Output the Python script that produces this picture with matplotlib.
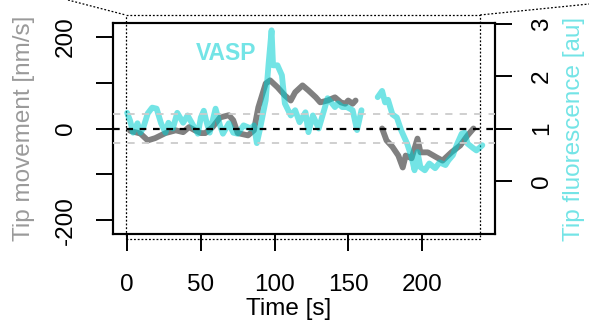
import numpy as np
import matplotlib
matplotlib.use("Agg")
import matplotlib.pyplot as plt
from matplotlib.lines import Line2D

plt.rcParams['font.family'] = ['Liberation Sans', 'DejaVu Sans']
plt.rcParams['font.size'] = 17.5

# tip movement [nm/s], left axis (two recorded stretches)
move_t1 = [2, 9, 14, 19, 26, 33, 38, 42, 46, 50, 53, 58, 63, 69, 72, 75, 82, 86,
           89, 94, 97, 102, 107, 111, 114, 119, 123, 128, 131, 136, 141, 145, 148,
           150, 153, 155]
move_v1 = [-5, -11, -26, -21, -10, -4, -8, 3, -4, -10, -10, 3, 24, 29, 18, -10, -15, -4,
           46, 98, 105, 90, 72, 61, 79, 94, 83, 68, 57, 61, 68, 57, 54,
           61, 54, 61]
move_t2 = [173, 176, 180, 184, 187, 189, 193, 197, 199, 204, 210, 214, 220, 226, 231, 235]
move_v2 = [0, -26, -40, -59, -85, -59, -65, -22, -52, -52, -63, -70, -52, -37, -15, 0]

# VASP tip fluorescence [au], right axis
fluo_t1 = [0, 2, 4, 7, 9, 11, 14, 17, 20, 23, 26, 28, 31, 34, 38, 41, 44, 48, 50, 52,
           54, 56, 60, 63, 65, 69, 72, 75, 79, 84, 86, 88, 90, 94, 96, 98, 99, 102,
           105, 107, 111, 114, 117, 121, 123, 126, 130, 133, 136, 139, 141, 143, 146,
           149, 153, 156, 159]
fluo_f1 = [1.30, 1.15, 0.92, 1.10, 0.92, 1.02, 1.29, 1.40, 1.38, 1.10, 0.92, 1.11, 1.00,
           1.30, 1.11, 1.25, 1.10, 0.90, 1.21, 1.34, 1.11, 0.92, 1.38, 1.06, 0.90, 1.10,
           0.92, 0.90, 1.06, 1.00, 1.06, 0.72, 0.97, 1.54, 2.25, 2.88, 2.21, 2.21, 2.02,
           1.48, 1.25, 1.35, 1.12, 1.31, 0.93, 1.25, 1.00, 1.29, 1.58, 1.48, 1.41, 1.48,
           1.41, 1.41, 1.35, 0.97, 1.35]
fluo_t2 = [170, 173, 175, 177, 180, 183, 186, 190, 193, 195, 197, 199, 202, 205, 209,
           212, 216, 218, 221, 224, 227, 229, 231, 235, 237, 241]
fluo_f2 = [1.60, 1.72, 1.50, 1.55, 1.27, 1.21, 0.96, 0.71, 0.45, 0.20, 0.55, 0.26, 0.20,
           0.33, 0.24, 0.35, 0.30, 0.39, 0.49, 0.71, 0.90, 0.92, 0.71, 0.62, 0.58, 0.68]

xticks = [0, 50, 100, 150, 200]
move_ticks = [-200, -100, 0, 100, 200]
move_labels = ['-200', '', '0', '', '200']
fluo_ticks = [0, 1, 2, 3]
band = 0.28  # grey band around baseline

grey = '#808080'
cyan = '#00CED1'
cyan_txt = '#73E4E6'

fig = plt.figure(figsize=(5.89, 3.27), dpi=100)
ax = fig.add_axes([113 / 589, 1 - 234 / 327, 382 / 589, 211 / 327])
ax2 = ax.twinx()

for t, v in [(move_t1, move_v1), (move_t2, move_v2)]:
    ax.plot(t, v, color=grey, lw=4.2, solid_capstyle='round', solid_joinstyle='round')
for t, f in [(fluo_t1, fluo_f1), (fluo_t2, fluo_f2)]:
    ax2.plot(t, f, color=cyan, alpha=0.55, lw=4.2,
             solid_capstyle='round', solid_joinstyle='round')

ax2.axhline(1, color='black', lw=1.6, ls=(0, (3, 3)), zorder=5)
ax2.axhline(1 + band, color='#cccccc', lw=1.3, ls=(0, (4, 4)), zorder=5)
ax2.axhline(1 - band, color='#cccccc', lw=1.3, ls=(0, (4, 4)), zorder=5)

ax2.text(67.3, 2.31, 'VASP', color=cyan_txt, fontweight='bold', ha='center',
         va='baseline', fontsize=16.5)

ax.set_xlim(-9.6, 249.6)
ax.set_ylim(-230, 230)
ax2.set_ylim(-1.02, 3.02)

ax.set_xticks(xticks)
ax.set_yticks(move_ticks)
ax.set_yticklabels(move_labels)
ax2.set_yticks(fluo_ticks)

for a in (ax, ax2):
    for s in a.spines.values():
        s.set_linewidth(1.5)
ax.tick_params(axis='both', length=12, width=1.4, pad=17)
ax.tick_params(axis='y', labelrotation=90, pad=14)
ax2.tick_params(axis='y', length=12, width=1.4, pad=14, labelrotation=90)
plt.setp(ax.get_yticklabels(), va='center')
plt.setp(ax2.get_yticklabels(), va='center', ha='left')

ax.set_xlabel('Time [s]')
ax.xaxis.set_label_coords(0.46, -0.305)
ax.set_ylabel('Tip movement [nm/s]', color='#9a9a9a')
ax.yaxis.set_label_coords(-0.205, 0.5)
ax2.set_ylabel('Tip fluorescence [au]', color=cyan_txt)
ax2.yaxis.set_label_coords(1.178, 0.5)

# dotted zoom frame and connectors to the panel above
xt = ax.get_xaxis_transform()
fx = [-1, 239.5, 239.5, -1, -1]
fy = [-0.024, -0.024, 1.038, 1.038, -0.024]
ax.plot(fx, fy, transform=xt, color='black', lw=0.9, ls=(0, (1.5, 1.5)), clip_on=False)
inv = fig.transFigure.inverted()
tl = inv.transform(xt.transform((-1, 1.038)))
tr = inv.transform(xt.transform((239.5, 1.038)))
fig.add_artist(Line2D([68 / 589, tl[0]], [1.0, tl[1]], transform=fig.transFigure,
                      color='black', lw=0.9, ls=(0, (1.5, 1.5))))
fig.add_artist(Line2D([tr[0], 1.0], [tr[1], 1 - 4 / 327], transform=fig.transFigure,
                      color='black', lw=0.9, ls=(0, (1.5, 1.5))))

fig.savefig('out.png', dpi=100)
